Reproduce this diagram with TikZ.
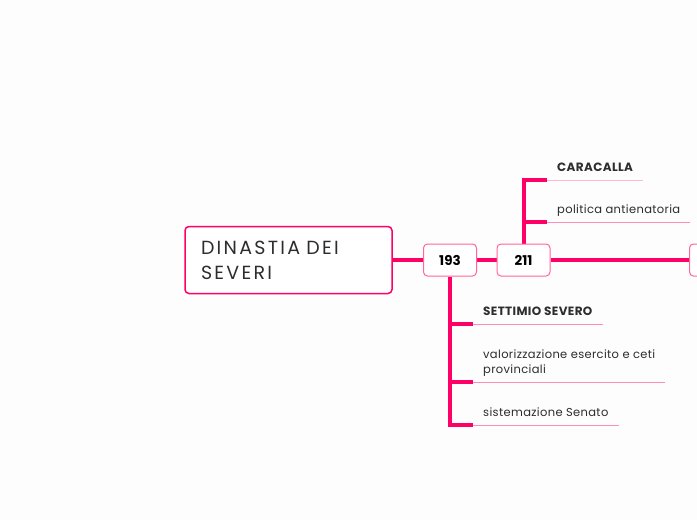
\documentclass[tikz,border=0pt]{standalone}
\usepackage{fontspec}
\setmainfont{Poppins}
\newfontfamily\rootfont{Poppins}[LetterSpace=12]
\newfontfamily\leaffont{Poppins}[LetterSpace=3]
\usetikzlibrary{positioning, backgrounds}
\definecolor{sevPink}{RGB}{255,0,102}
\definecolor{sevSoft}{RGB}{255,102,153}
\definecolor{sevLine}{RGB}{255,140,185}
\definecolor{sevPale}{RGB}{255,185,210}
\definecolor{sevText}{RGB}{45,45,45}
\definecolor{sevBack}{RGB}{253,253,253}
\tikzset{
  rootbox/.style={draw=sevPink, line width=1.5pt, rounded corners=4pt, fill=white,
    text=sevText, font=\rootfont\fontsize{19}{25}\selectfont, align=left,
    text width=175pt, inner xsep=16pt, minimum height=67pt},
  yearbox/.style={draw=sevSoft, line width=1pt, rounded corners=4pt, fill=white,
    text=black, font=\fontsize{13.5}{16}\selectfont\bfseries,
    minimum width=53pt, minimum height=32pt},
  leaf/.style={anchor=south west, inner xsep=10pt, inner ysep=8.3pt, text depth=0pt,
    text=sevText, font=\leaffont\fontsize{11.5}{15}\selectfont, align=left},
  leafbold/.style={leaf, font=\leaffont\fontsize{12}{15}\selectfont\bfseries},
  trunk/.style={draw=sevPink, line width=4pt},
  underline/.style={draw=sevLine, line width=0.8pt},
}

\begin{document}
\begin{tikzpicture}[x=1pt, y=-1pt]
        \useasboundingbox (0,0) rectangle (697,520);
        % central topic and years
        \node[rootbox] (root) at (288.5,260) {DINASTIA DEI\\SEVERI};
        \node[yearbox] (y193) at (450,260) {193};
        \node[yearbox] (y211) at (523.5,260) {211};
        \node[yearbox] (ynext) at (716,260) {};
        % leaves of 211
        \node[leafbold] (cara) at (547,180) {CARACALLA};
        \node[leaf] (poli) at (547,222) {politica antienatoria};
        % leaves of 193
        \node[leafbold] (sett) at (473,324) {SETTIMIO SEVERO};
        \node[leaf] (valo) at (473,382) {valorizzazione esercito e ceti\\provinciali};
        \node[leaf] (sist) at (473,425) {sistemazione Senato};
        \begin{scope}[on background layer]
          \fill[sevBack] (0,0) rectangle (697,520);
          \draw[trunk] (root.east) -- (y193.west);
          \draw[trunk] (y193.east) -- (y211.west);
          \draw[trunk] (y211.east) -- (ynext.west);
          \draw[trunk] (y211.north) |- (cara.south west);
          \draw[trunk] (y211.north) |- (poli.south west);
          \draw[trunk] (y193.south) |- (sett.south west);
          \draw[trunk] (y193.south) |- (valo.south west);
          \draw[trunk] (y193.south) |- (sist.south west);
        \end{scope}
        \draw[underline, sevPale] (cara.south west) -- (cara.south east);
        \draw[underline] (poli.south west) -- (poli.south east);
        \draw[underline] (sett.south west) -- (sett.south east);
        \draw[underline] (valo.south west) -- (valo.south east);
        \draw[underline] (sist.south west) -- (sist.south east);
      \end{tikzpicture}
\end{document}
